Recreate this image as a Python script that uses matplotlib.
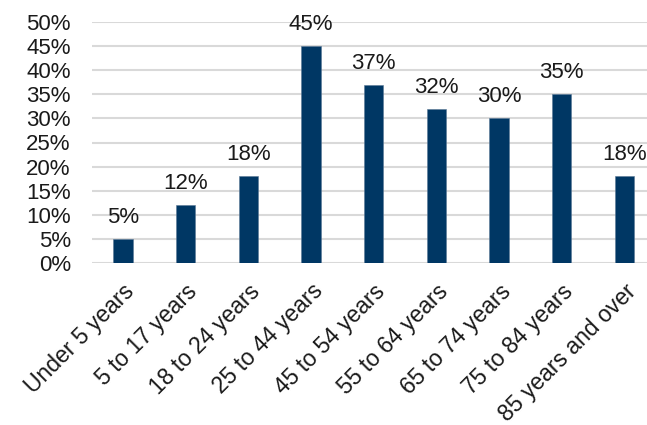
import matplotlib.pyplot as plt
import numpy as np

plt.rcParams['font.family'] = ['Liberation Sans', 'DejaVu Sans']

age_groups = ['Under 5 years', '5 to 17 years', '18 to 24 years', '25 to 44 years',
              '45 to 54 years', '55 to 64 years', '65 to 74 years', '75 to 84 years',
              '85 years and over']
shares = [5, 12, 18, 45, 37, 32, 30, 35, 18]

fig = plt.figure(figsize=(6.47, 4.25), dpi=100)
ax = fig.add_axes([91.6 / 647, 162 / 425, 564 / 647, 241 / 425])

x = np.arange(len(age_groups))
ax.bar(x, shares, width=0.31, color='#003764', edgecolor='#5a7896', linewidth=0.4, zorder=3)

for xi, v in zip(x, shares):
    ax.annotate(f'{v}%', (xi, v), xytext=(0, 8), textcoords='offset points',
                ha='center', va='bottom', fontsize=16, color='#1a1a1a')

ax.set_xlim(-0.5, len(age_groups) - 0.5)
ax.set_ylim(0, 50)
ax.set_yticks(range(0, 51, 5))
ax.set_yticklabels([f'{t}%' for t in range(0, 51, 5)], fontsize=16, color='#1a1a1a')
ax.set_xticks(x)
ax.set_xticklabels(age_groups, rotation=45, ha='right', rotation_mode='anchor',
                   fontsize=16.5, color='#1a1a1a')
ax.tick_params(axis='y', length=0, pad=15)
ax.tick_params(axis='x', length=0, pad=12)
ax.grid(axis='y', color='#d9d9d9', linewidth=1.5, zorder=0)
for s in ax.spines.values():
    s.set_visible(False)

fig.savefig('out.png', dpi=100)
